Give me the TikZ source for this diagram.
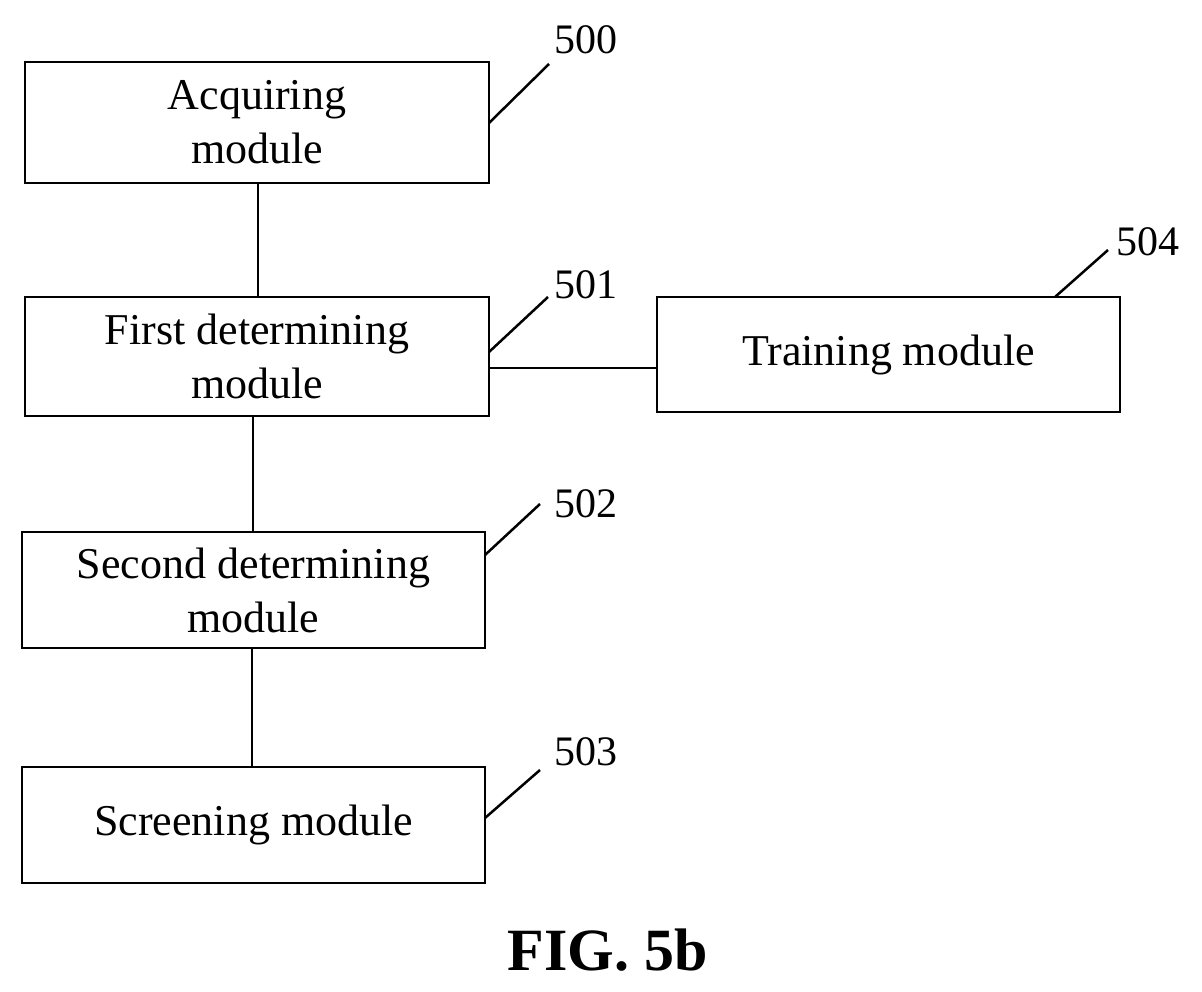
\documentclass[tikz,border=0pt]{standalone}
\usepackage{fontspec}
\setmainfont{Liberation Serif}
\begin{document}
\begin{tikzpicture}[x=1pt,y=-1pt,
 box/.style={draw,rectangle,minimum width=#1,align=center,font=\fontsize{44}{54}\selectfont,inner sep=0pt},
 lab/.style={font=\fontsize{42}{44}\selectfont,inner sep=0pt},
 every path/.style={line width=2.5pt}]
\useasboundingbox (0,0) rectangle (1202,992);
\node[box=464pt,minimum height=121pt] (a) at (257,122.5) {Acquiring\\module};
\node[box=464pt,minimum height=119pt] (b) at (257,356.5) {First determining\\module};
\node[box=463pt,minimum height=116pt] (c) at (253.5,590) {Second determining\\module};
\node[box=463pt,minimum height=116pt] (d) at (253.5,825) {Screening module};
\node[box=463pt,minimum height=115pt] (e) at (888.5,354.5) {Training module};
\draw (258,183) coordinate (a1) -- (258,297) coordinate (b1);
\draw (253,416) coordinate (b2) -- (253,532) coordinate (c1);
\draw (252,648) coordinate (c2) -- (252,767) coordinate (d1);
\draw (489,368) coordinate (b3) -- (657,368) coordinate (e1);
\node[lab] (l500) at (586,40) {500};
\node[lab] (l501) at (586,285) {501};
\node[lab] (l502) at (586,504) {502};
\node[lab] (l503) at (586,752) {503};
\node[lab] (l504) at (1148,242) {504};
\draw (489,123) -- (549,64);
\draw (489,352) -- (548,297);
\draw (485,555) -- (540,504);
\draw (485,818) -- (540,770);
\draw (1055,297) -- (1108,250);
\node[font=\fontsize{60}{64}\selectfont\bfseries,inner sep=0pt] (fig) at (608,950) {FIG. 5b};
\end{tikzpicture}
\end{document}
